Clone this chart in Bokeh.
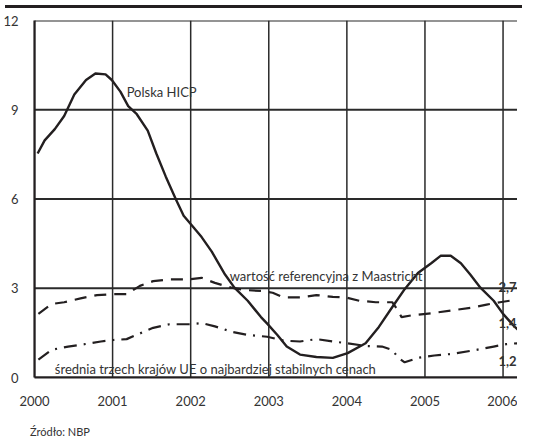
from bokeh.plotting import figure
from bokeh.models import FixedTicker, Range1d, Div
from bokeh.layouts import column
from bokeh.core.properties import value
from bokeh.embed import file_html
from bokeh.resources import INLINE

# ---- data ----
hicp_x = [2000.04, 2000.13, 2000.26, 2000.38, 2000.51, 2000.66, 2000.78, 2000.91, 2000.99,
          2001.10, 2001.20, 2001.31, 2001.45, 2001.56, 2001.68, 2001.81, 2001.91, 2002.00,
          2002.14, 2002.27, 2002.44, 2002.56, 2002.73, 2002.90, 2002.98, 2003.11, 2003.23,
          2003.40, 2003.61, 2003.82, 2004.01, 2004.24, 2004.41, 2004.58, 2004.74, 2004.91,
          2005.08, 2005.20, 2005.33, 2005.46, 2005.58, 2005.71, 2005.88, 2006.00, 2006.15, 2006.27]
hicp_y = [7.53, 7.97, 8.35, 8.79, 9.51, 10.0, 10.22, 10.19, 10.0,
          9.61, 9.12, 8.85, 8.30, 7.53, 6.76, 5.99, 5.44, 5.16,
          4.72, 4.23, 3.46, 3.02, 2.58, 2.03, 1.81, 1.43, 1.04,
          0.77, 0.69, 0.66, 0.82, 1.15, 1.70, 2.36, 2.97, 3.51,
          3.84, 4.09, 4.09, 3.84, 3.46, 3.02, 2.58, 2.14, 1.70, 1.43]

ref_x = [2000.05, 2000.22, 2000.38, 2000.59, 2000.80, 2000.99, 2001.18, 2001.35, 2001.52,
         2001.73, 2001.98, 2002.14, 2002.31, 2002.52, 2002.69, 2002.90, 2003.05, 2003.19,
         2003.40, 2003.61, 2003.82, 2003.99, 2004.16, 2004.37, 2004.58, 2004.64, 2004.70,
         2004.83, 2005.08, 2005.33, 2005.58, 2005.79, 2005.96, 2006.13, 2006.27]
ref_y = [2.14, 2.47, 2.53, 2.66, 2.77, 2.80, 2.80, 3.08, 3.24,
         3.30, 3.30, 3.35, 3.18, 3.02, 2.94, 2.91, 2.85, 2.69,
         2.69, 2.77, 2.71, 2.69, 2.58, 2.53, 2.53, 2.31, 2.03,
         2.09, 2.16, 2.25, 2.34, 2.45, 2.53, 2.60, 2.71]

eu3_x = [2000.05, 2000.22, 2000.43, 2000.64, 2000.85, 2001.01, 2001.18, 2001.35, 2001.52,
         2001.73, 2001.98, 2002.14, 2002.31, 2002.52, 2002.73, 2002.98, 2003.19, 2003.40,
         2003.61, 2003.82, 2004.01, 2004.24, 2004.45, 2004.58, 2004.66, 2004.74, 2004.91,
         2005.12, 2005.37, 2005.62, 2005.88, 2006.04, 2006.27]
eu3_y = [0.60, 0.93, 1.04, 1.12, 1.21, 1.26, 1.29, 1.48, 1.67,
         1.79, 1.79, 1.83, 1.72, 1.54, 1.43, 1.37, 1.24, 1.21,
         1.29, 1.21, 1.15, 1.06, 1.04, 0.93, 0.66, 0.51, 0.66,
         0.74, 0.80, 0.91, 1.04, 1.12, 1.17]

year_ticks = [2000, 2001, 2002, 2003, 2004, 2005, 2006]
value_ticks = [0, 3, 6, 9, 12]
end_labels = ["2,7", "1,4", "1,2"]
end_label_vals = [3.03, 1.82, 0.57]
series_names = ["Polska HICP", "wartość referencyjna z Maastricht",
                "średnia trzech krajów UE o najbardziej stabilnych cenach"]
name_x = [2001.18, 2002.50, 2000.26]
name_y = [9.61, 3.41, 0.27]
source_text = "Źródło: NBP"

X_END = 2006.185
Y_MIN, Y_MAX = 0, 12
INK = "#231f20"
GRID = "#2a2a2a"
TXT = "#333333"
FONT = "Lato"

p = figure(width=517, height=395, x_range=Range1d(2000, X_END), y_range=Range1d(Y_MIN, Y_MAX),
           output_backend="svg", toolbar_location=None, title=None,
           min_border_left=25, min_border_right=0, min_border_top=7, min_border_bottom=30)
p.outline_line_color = None
p.xgrid.grid_line_color = None
p.ygrid.grid_line_color = None

# grid lines drawn from the tick lists
p.segment(x0=year_ticks, y0=[Y_MIN] * len(year_ticks), x1=year_ticks, y1=[Y_MAX] * len(year_ticks),
          line_color=GRID, line_width=1.5, level="underlay")
p.segment(x0=[2000] * len(value_ticks), y0=value_ticks, x1=[X_END] * len(value_ticks), y1=value_ticks,
          line_color=GRID, line_width=2, level="underlay")

# axes
p.xaxis.ticker = FixedTicker(ticks=year_ticks)
p.yaxis.ticker = FixedTicker(ticks=value_ticks)
for ax in (p.xaxis, p.yaxis):
    ax.axis_line_color = INK
    ax.axis_line_width = 2.2
    ax.major_tick_line_color = None
    ax.minor_tick_line_color = None
    ax.major_label_text_font = FONT
    ax.major_label_text_font_size = "13px"
    ax.major_label_text_color = TXT
p.xaxis.major_label_standoff = 12
p.yaxis.major_label_standoff = 10

# series
p.line(hicp_x, hicp_y, line_color=INK, line_width=2.4, line_join="round")
p.line(ref_x, ref_y, line_color=INK, line_width=2.2, line_dash="12 8")
p.line(eu3_x, eu3_y, line_color=INK, line_width=2.2, line_dash="13 7 2 7")

# series names
p.text(x=name_x, y=name_y, text=series_names, text_font=value(FONT), text_font_size="13px",
       text_color=TXT, text_baseline="alphabetic", text_align="left")

# end values
p.text(x=[X_END - 0.012] * 3, y=end_label_vals, text=end_labels, text_font=value(FONT),
       text_font_size="13px", text_font_style="bold", text_color=TXT,
       text_baseline="alphabetic", text_align="right")

band = Div(text="&nbsp;", width=517, height=3,
           styles={"background-color": INK, "overflow": "hidden"})
source = Div(text=source_text, width=517, height=26,
             styles={"font-family": FONT, "font-size": "11px", "color": TXT,
                     "padding-left": "25px", "padding-top": "11px", "box-sizing": "border-box"})
layout = column(band, p, source, spacing=0)

open("out.html", "w").write(file_html(layout, INLINE))
